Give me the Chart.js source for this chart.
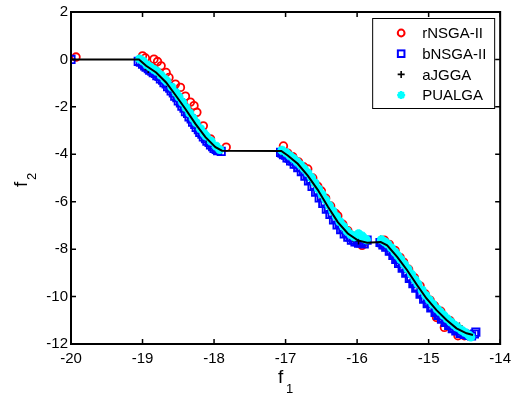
<!DOCTYPE html>
<html><head><meta charset="utf-8">
<script src="https://cdn.jsdelivr.net/npm/chart.js@4/dist/chart.umd.min.js"></script>
<style>html,body{margin:0;padding:0;background:#fff}canvas{display:block}</style>
</head><body>
<canvas id="c" width="517" height="394"></canvas>
<script>
// ---- Data ----
const xTicks = [-20, -19, -18, -17, -16, -15, -14];
const yTicks = [-12, -10, -8, -6, -4, -2, 0, 2];
const seriesNames = ['rNSGA-II', 'bNSGA-II', 'aJGGA', 'PUALGA'];

// Reference front (black line)
const frontX = [-20, -19.05, -18.95, -18.81, -18.67, -18.54, -18.40, -18.26, -18.12, -17.98, -17.89, -17.06, -16.97, -16.83, -16.69, -16.55, -16.41, -16.27, -16.13, -15.99, -15.86, -15.67, -15.58, -15.44, -15.30, -15.16, -15.03, -14.89, -14.75, -14.61, -14.47, -14.38];
const frontY = [0, 0, -0.27, -0.55, -0.97, -1.50, -2.09, -2.72, -3.28, -3.70, -3.85, -3.86, -4.05, -4.40, -4.90, -5.50, -6.20, -6.86, -7.34, -7.63, -7.73, -7.70, -7.84, -8.33, -8.89, -9.52, -10.08, -10.57, -10.99, -11.34, -11.55, -11.62];

// rNSGA-II (red circles)
const rX = [-19.93, -19.00, -18.96, -18.84, -18.79, -18.74, -18.67, -18.63, -18.54, -18.47, -18.40, -18.33, -18.28, -18.24, -18.15, -18.05, -17.83,
  -17.03, -16.97, -16.90, -16.82, -16.75, -16.69, -16.62, -16.55, -16.50, -16.44, -16.37, -16.30, -16.27, -16.20, -16.13, -16.05, -15.98, -15.93,
  -15.62, -15.55, -15.47, -15.40, -15.35, -15.28, -15.20, -15.12, -15.05, -14.98, -14.92, -14.89, -14.83, -14.78, -14.70, -14.59, -14.50];
const rY = [0.10, 0.15, 0.06, 0.01, -0.09, -0.27, -0.55, -0.76, -1.04, -1.18, -1.55, -1.80, -1.95, -2.23, -2.80, -3.35, -3.70,
  -3.65, -3.95, -4.10, -4.32, -4.52, -4.62, -5.00, -5.35, -5.55, -5.85, -6.18, -6.50, -6.60, -6.95, -7.22, -7.45, -7.62, -7.84,
  -7.62, -7.80, -8.05, -8.35, -8.55, -8.85, -9.20, -9.55, -9.88, -10.15, -10.38, -10.88, -10.62, -11.30, -11.02, -11.65, -11.65];

// bNSGA-II (blue squares)
const bX = [-20.00, -19.06, -19.00, -18.95, -18.90, -18.85, -18.80, -18.75, -18.70, -18.65, -18.60, -18.55, -18.50, -18.45, -18.40, -18.35, -18.30, -18.25, -18.20, -18.15, -18.10, -18.05, -18.00, -17.95, -17.90,
  -17.07, -17.03, -16.98, -16.93, -16.88, -16.83, -16.78, -16.73, -16.68, -16.63, -16.58, -16.53, -16.48, -16.43, -16.38, -16.33, -16.28, -16.23, -16.18, -16.13, -16.08, -16.03, -15.98, -15.93, -15.86,
  -15.68, -15.64, -15.60, -15.55, -15.50, -15.46, -15.42, -15.37, -15.32, -15.27, -15.22, -15.18, -15.12, -15.07, -15.02, -14.97, -14.91, -14.87, -14.82, -14.77, -14.72, -14.67, -14.62, -14.56, -14.50, -14.43, -14.36, -14.34];
const bY = [0.00, -0.08, -0.20, -0.33, -0.45, -0.56, -0.68, -0.82, -0.98, -1.15, -1.33, -1.55, -1.75, -1.97, -2.20, -2.42, -2.65, -2.87, -3.08, -3.27, -3.45, -3.60, -3.75, -3.85, -3.88,
  -3.92, -4.02, -4.15, -4.28, -4.42, -4.56, -4.73, -4.92, -5.12, -5.36, -5.60, -5.84, -6.07, -6.31, -6.54, -6.77, -6.98, -7.18, -7.36, -7.50, -7.62, -7.70, -7.75, -7.70, -7.62,
  -7.72, -7.82, -7.92, -8.09, -8.27, -8.43, -8.60, -8.80, -9.01, -9.23, -9.46, -9.65, -9.90, -10.11, -10.30, -10.48, -10.67, -10.80, -10.95, -11.09, -11.22, -11.35, -11.45, -11.55, -11.60, -11.62, -11.58, -11.50];
const bX2 = [-19.03, -18.97, -18.92, -18.87, -18.82, -18.77, -18.72, -18.67, -18.62, -18.57, -18.52, -18.47, -18.42, -18.37, -18.32, -18.27, -18.22, -18.17, -18.12, -18.07, -18.02, -17.97,
  -17.05, -17.00, -16.95, -16.90, -16.85, -16.80, -16.75, -16.70, -16.65, -16.60, -16.55, -16.50, -16.45, -16.40, -16.35, -16.30, -16.25, -16.20, -16.15, -16.10, -16.05, -16.00, -15.95, -15.90,
  -15.66, -15.62, -15.58, -15.53, -15.48, -15.44, -15.40, -15.35, -15.30, -15.25, -15.20, -15.16, -15.10, -15.05, -15.00, -14.95, -14.89, -14.85, -14.80, -14.75, -14.70, -14.65, -14.61, -14.55, -14.50, -14.45, -14.40];
const bY2 = [-0.12, -0.27, -0.39, -0.49, -0.59, -0.72, -0.88, -1.03, -1.21, -1.41, -1.61, -1.83, -2.06, -2.28, -2.51, -2.74, -2.96, -3.15, -3.34, -3.50, -3.68, -3.80,
  -3.95, -4.04, -4.16, -4.28, -4.41, -4.55, -4.71, -4.88, -5.08, -5.31, -5.56, -5.79, -6.02, -6.26, -6.49, -6.72, -6.94, -7.15, -7.33, -7.48, -7.60, -7.68, -7.74, -7.78,
  -7.73, -7.81, -7.90, -8.06, -8.24, -8.39, -8.55, -8.75, -8.95, -9.17, -9.40, -9.58, -9.84, -10.06, -10.25, -10.43, -10.63, -10.75, -10.90, -11.05, -11.18, -11.31, -11.40, -11.51, -11.58, -11.63, -11.66];

// aJGGA (black plus)
const aX = [-19.03, -18.92, -18.80, -18.66, -18.52, -18.38, -18.24, -18.10, -17.95,
  -17.04, -16.90, -16.76, -16.62, -16.48, -16.34, -16.20, -16.06, -15.98,
  -15.67, -15.55, -15.42, -15.28, -15.14, -15.00, -14.86, -14.72, -14.57];
const aY = [-0.05, -0.42, -0.58, -1.00, -1.55, -2.18, -2.81, -3.35, -3.78,
  -3.92, -4.22, -4.60, -5.15, -5.84, -6.45, -7.09, -7.53, -7.65,
  -7.58, -7.94, -8.40, -8.97, -9.58, -10.19, -10.65, -11.04, -11.25];

// PUALGA (cyan stars)
const pX = [-19.04, -18.99, -18.94, -18.89, -18.84, -18.80, -18.74, -18.69, -18.66, -18.59, -18.53, -18.49, -18.44, -18.39, -18.34, -18.29, -18.25, -18.19, -18.14, -18.11, -18.04, -17.97, -17.92,
  -17.05, -16.99, -16.94, -16.89, -16.84, -16.79, -16.74, -16.69, -16.64, -16.59, -16.54, -16.49, -16.44, -16.39, -16.34, -16.29, -16.24, -16.19, -16.14, -16.09, -16.04, -15.98, -15.93, -15.90, -15.87,
  -15.66, -15.61, -15.57, -15.52, -15.47, -15.43, -15.39, -15.34, -15.29, -15.24, -15.19, -15.15, -15.09, -15.04, -14.99, -14.94, -14.88, -14.84, -14.79, -14.74, -14.69, -14.64, -14.60, -14.54, -14.49, -14.44, -14.41];
const pY = [0.02, -0.08, -0.22, -0.32, -0.42, -0.50, -0.67, -0.83, -0.92, -1.17, -1.41, -1.58, -1.81, -2.04, -2.26, -2.49, -2.67, -2.92, -3.12, -3.23, -3.45, -3.66, -3.80,
  -3.83, -3.94, -4.06, -4.18, -4.31, -4.45, -4.61, -4.78, -4.98, -5.21, -5.46, -5.69, -5.92, -6.16, -6.39, -6.62, -6.84, -7.05, -7.23, -7.38, -7.48, -7.35, -7.45, -7.55, -7.60,
  -7.60, -7.70, -7.79, -7.95, -8.13, -8.28, -8.44, -8.64, -8.84, -9.06, -9.29, -9.47, -9.73, -9.95, -10.14, -10.32, -10.52, -10.64, -10.79, -10.94, -11.07, -11.20, -11.29, -11.42, -11.52, -11.62, -11.70];

const zip = (xs, ys) => xs.map((x, i) => ({ x: x, y: ys[i] }));
const FONT = '"Liberation Sans", Arial, Helvetica, sans-serif';

const datasets = [
  { label: seriesNames[0], data: zip(rX, rY), showLine: false, pointStyle: 'circle', pointRadius: 3.8,
    borderColor: '#ff0000', backgroundColor: 'rgba(0,0,0,0)', pointBorderWidth: 1.8, order: 4 },
  { label: seriesNames[1], data: zip(bX, bY).concat(zip(bX2, bY2)), showLine: false, pointStyle: 'rect', pointRadius: 5.2,
    borderColor: '#0000ff', backgroundColor: 'rgba(0,0,0,0)', pointBorderWidth: 1.8, order: 3 },
  { label: seriesNames[2], data: zip(aX, aY), showLine: false, pointStyle: 'cross', pointRadius: 3.6,
    borderColor: '#000000', backgroundColor: '#000000', pointBorderWidth: 1.5, order: 2 },
  { label: seriesNames[3], data: zip(pX, pY), showLine: false, pointStyle: 'star', pointRadius: 4.5,
    borderColor: '#00ffff', backgroundColor: '#00ffff', pointBorderWidth: 3, order: 1 },
  { label: '', data: zip(frontX, frontY), showLine: true, pointRadius: 0, borderColor: '#000000',
    borderWidth: 2, tension: 0, order: 0 }
];

function drawMarker(ctx, style, x, y, color) {
  ctx.save();
  ctx.strokeStyle = color; ctx.fillStyle = color; ctx.lineWidth = 2;
  ctx.beginPath();
  if (style === 'circle') { ctx.arc(x, y, 3.4, 0, Math.PI * 2); ctx.stroke(); }
  else if (style === 'rect') { ctx.strokeRect(x - 3.3, y - 3.3, 6.6, 6.6); }
  else if (style === 'cross') { ctx.lineWidth = 1.6; ctx.moveTo(x - 3.5, y); ctx.lineTo(x + 3.5, y); ctx.moveTo(x, y - 3.5); ctx.lineTo(x, y + 3.5); ctx.stroke(); }
  else if (style === 'star') {
    ctx.lineWidth = 2.4;
    for (let k = 0; k < 4; k++) { const a = k * Math.PI / 4; ctx.moveTo(x - 4 * Math.cos(a), y - 4 * Math.sin(a)); ctx.lineTo(x + 4 * Math.cos(a), y + 4 * Math.sin(a)); }
    ctx.stroke();
  }
  ctx.restore();
}

const framePlugin = {
  id: 'frame',
  afterDatasetsDraw(chart) {
    const { ctx, chartArea: ca, scales } = chart;
    const xs = scales.x, ys = scales.y;
    ctx.save();
    ctx.strokeStyle = '#000'; ctx.lineWidth = 2;
    ctx.strokeRect(ca.left, ca.top, ca.right - ca.left, ca.bottom - ca.top);
    ctx.lineWidth = 1.5; ctx.beginPath();
    const tl = 5;
    xTicks.forEach(v => {
      const px = xs.getPixelForValue(v);
      ctx.moveTo(px, ca.bottom); ctx.lineTo(px, ca.bottom - tl);
      ctx.moveTo(px, ca.top); ctx.lineTo(px, ca.top + tl);
    });
    yTicks.forEach(v => {
      const py = ys.getPixelForValue(v);
      ctx.moveTo(ca.left, py); ctx.lineTo(ca.left + tl, py);
      ctx.moveTo(ca.right, py); ctx.lineTo(ca.right - tl, py);
    });
    ctx.stroke();

    // legend box
    const boxW = 122, boxH = 90;
    const bx = ca.right - 6 - boxW, by = ca.top + 6;
    ctx.fillStyle = '#fff'; ctx.fillRect(bx, by, boxW, boxH);
    ctx.strokeStyle = '#000'; ctx.lineWidth = 1; ctx.strokeRect(bx + 0.5, by + 0.5, boxW, boxH);
    const styles = ['circle', 'rect', 'cross', 'star'];
    const colors = ['#ff0000', '#0000ff', '#000000', '#00ffff'];
    ctx.font = '15px ' + FONT; ctx.textBaseline = 'middle'; ctx.textAlign = 'left';
    seriesNames.forEach((name, i) => {
      const ry = by + 15 + i * 20.7;
      drawMarker(ctx, styles[i], bx + 29, ry, colors[i]);
      ctx.fillStyle = '#000';
      ctx.fillText(name, bx + 50, ry + 1);
    });

    // axis titles
    ctx.fillStyle = '#000'; ctx.textBaseline = 'alphabetic';
    ctx.font = '19px ' + FONT;
    ctx.fillText('f', 278, 383);
    ctx.font = '13px ' + FONT;
    ctx.fillText('1', 286, 393);
    ctx.save();
    ctx.translate(27, 187); ctx.rotate(-Math.PI / 2);
    ctx.font = '19px ' + FONT; ctx.fillText('f', 0, 0);
    ctx.font = '13px ' + FONT; ctx.fillText('2', 7, 9);
    ctx.restore();
    ctx.restore();
  }
};

new Chart(document.getElementById('c'), {
  type: 'scatter',
  data: { datasets: datasets },
  options: {
    responsive: false, animation: false,
    layout: { padding: { top: 11, right: 13, left: 0, bottom: 0 } },
    plugins: { legend: { display: false }, tooltip: { enabled: false } },
    scales: {
      x: {
        type: 'linear', min: -20, max: -14,
        afterFit(s) { s.height = 50; },
        afterBuildTicks(s) { s.ticks = xTicks.map(v => ({ value: v })); },
        grid: { display: false, drawTicks: false }, border: { display: false },
        ticks: { padding: 6, color: '#000', font: { size: 15, family: FONT }, maxRotation: 0, autoSkip: false, callback: v => String(v) }
      },
      y: {
        type: 'linear', min: -12, max: 2,
        afterFit(s) { s.width = 71; },
        afterBuildTicks(s) { s.ticks = yTicks.map(v => ({ value: v })); },
        grid: { display: false, drawTicks: false }, border: { display: false },
        ticks: { padding: 3, color: '#000', font: { size: 15, family: FONT }, autoSkip: false, callback: v => String(v) }
      }
    }
  },
  plugins: [framePlugin]
});
</script>
</body></html>
